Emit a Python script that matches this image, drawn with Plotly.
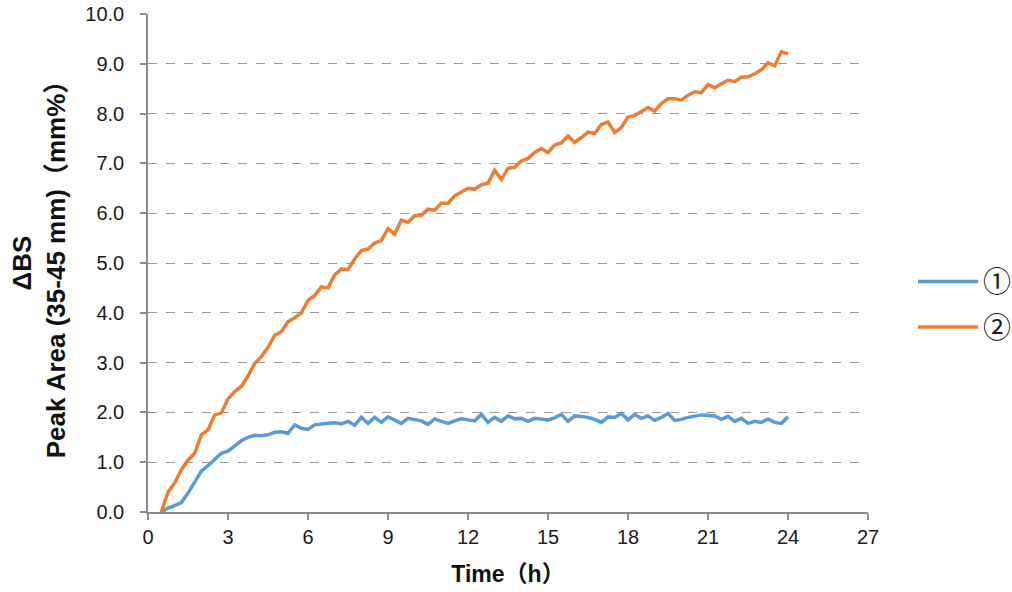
import plotly.graph_objects as go

# Elapsed time (h), sampled every 15 min
time_start = 0.5
time_step = 0.25
n_points = 95
time_h = [time_start + i * time_step for i in range(n_points)]

# Sample ① : ΔBS peak area (mm%)
series_1 = [
    0.00, 0.08, 0.13, 0.19, 0.38, 0.60, 0.82, 0.93, 1.05, 1.18,
    1.22, 1.33, 1.43, 1.50, 1.54, 1.53, 1.55, 1.60, 1.61, 1.58,
    1.75, 1.68, 1.66, 1.75, 1.77, 1.78, 1.79, 1.77, 1.82, 1.74,
    1.90, 1.78, 1.90, 1.80, 1.91, 1.85, 1.78, 1.88, 1.85, 1.83,
    1.76, 1.87, 1.82, 1.78, 1.83, 1.87, 1.85, 1.83, 1.96, 1.80,
    1.90, 1.82, 1.93, 1.87, 1.88, 1.82, 1.88, 1.87, 1.85, 1.89,
    1.96, 1.82, 1.93, 1.92, 1.90, 1.86, 1.80, 1.91, 1.90, 1.98,
    1.85, 1.96, 1.88, 1.93, 1.84, 1.90, 1.98, 1.84, 1.86, 1.90,
    1.93, 1.95, 1.94, 1.93, 1.86, 1.92, 1.82, 1.88, 1.78, 1.82,
    1.80, 1.87, 1.80, 1.78, 1.91,
]

# Sample ② : ΔBS peak area (mm%)
series_2 = [
    0.00, 0.40, 0.58, 0.85, 1.04, 1.18, 1.55, 1.65, 1.95, 1.99,
    2.27, 2.42, 2.52, 2.73, 2.98, 3.12, 3.30, 3.55, 3.62, 3.82,
    3.90, 4.00, 4.25, 4.35, 4.52, 4.50, 4.76, 4.88, 4.87, 5.08,
    5.25, 5.28, 5.40, 5.45, 5.69, 5.58, 5.86, 5.82, 5.95, 5.96,
    6.08, 6.06, 6.20, 6.20, 6.35, 6.42, 6.50, 6.48, 6.57, 6.60,
    6.86, 6.68, 6.90, 6.92, 7.05, 7.10, 7.22, 7.30, 7.22, 7.37,
    7.41, 7.55, 7.42, 7.52, 7.63, 7.60, 7.78, 7.83, 7.62, 7.72,
    7.93, 7.96, 8.05, 8.12, 8.05, 8.20, 8.30, 8.30, 8.27, 8.37,
    8.44, 8.42, 8.58, 8.52, 8.60, 8.67, 8.64, 8.73, 8.74, 8.80,
    8.88, 9.02, 8.96, 9.24, 9.20,
]

series_names = ["①", "②"]
series_colors = ["#5B9BD5", "#ED7D31"]

x_ticks = [0, 3, 6, 9, 12, 15, 18, 21, 24, 27]
y_ticks = [0, 1, 2, 3, 4, 5, 6, 7, 8, 9, 10]

fig = go.Figure()
for name, values, color in zip(series_names, [series_1, series_2], series_colors):
    fig.add_trace(go.Scatter(
        x=time_h, y=values, mode="lines", name=name, legendgroup=name,
        line=dict(color=color, width=3.5),
    ))

sans = "Liberation Sans, Arial, Noto Sans CJK JP, sans-serif"
tick_font = dict(family=sans, size=20, color="#1a1a1a")
title_font = dict(family=sans, size=26, color="#111111")

fig.update_layout(
    width=1012, height=592,
    margin=dict(l=148, r=144, t=14, b=80, autoexpand=False),
    paper_bgcolor="white", plot_bgcolor="white",
    showlegend=True,
    legend=dict(
        x=1.0625, y=0.417, xanchor="left", yanchor="middle",
        font=dict(family="Noto Sans CJK JP, sans-serif", size=28, color="#1a1a1a"),
        tracegroupgap=6, itemwidth=60, bgcolor="rgba(0,0,0,0)",
    ),
    xaxis=dict(
        range=[0, 27], tickvals=x_ticks, ticktext=[str(v) for v in x_ticks],
        showgrid=False, zeroline=False, automargin=False,
        showline=True, linecolor="#8c8c8c", linewidth=1.5,
        ticks="outside", ticklen=6, tickcolor="#8c8c8c", tickwidth=1.5,
        ticklabelstandoff=0,
        tickfont=tick_font,
        title=dict(text="<b>Time（h）</b>", standoff=19,
                   font=dict(family=sans, size=23, color="#111111")),
    ),
    yaxis=dict(
        range=[0, 10], tickvals=y_ticks, ticktext=[f"{v:.1f}" for v in y_ticks],
        showgrid=True, gridcolor="#9a9a9a", griddash="dash", gridwidth=1,
        zeroline=False, automargin=False,
        showline=True, linecolor="#8c8c8c", linewidth=1.5,
        ticks="outside", ticklen=6, tickcolor="#8c8c8c", tickwidth=1.5,
        ticklabelstandoff=12,
        tickfont=tick_font,
        title=dict(text="<b>ΔBS<br>Peak Area (35-45 mm)（mm%）</b>", standoff=12,
                   font=title_font),
    ),
)

fig.write_html("out.html")
